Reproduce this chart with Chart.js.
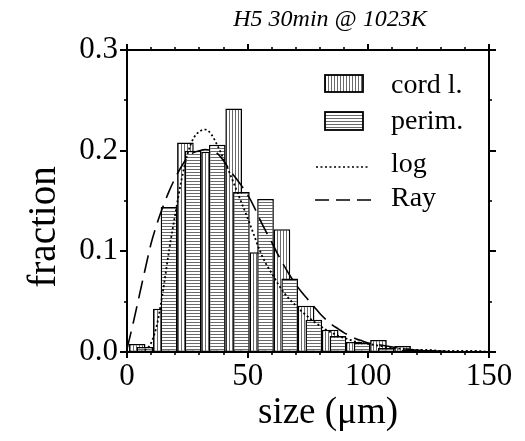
<!DOCTYPE html>
<html><head><meta charset="utf-8">
<script src="https://cdn.jsdelivr.net/npm/chart.js@4.4.1/dist/chart.umd.min.js"></script>
<style>html,body{margin:0;padding:0;background:#fff;}canvas{display:block;}</style>
</head><body>
<canvas id="c" width="525" height="441"></canvas>
<script>
// ---- data ----
const binStart = [0,10,20,30,40,50,60,70,80,90,100,110,120,130,140];
const cordL = [0.008,0.043,0.208,0.199,0.242,0.099,0.122,0.046,0.022,0.010,0.012,0.006,0.002,0.001,0.001];
const perim = [0.005,0.144,0.200,0.206,0.159,0.152,0.073,0.032,0.016,0.009,0.004,0.002,0.001,0.000,0.001];
const curveX = [0,2.5,5,7.5,10,12.5,15,17.5,20,22.5,25,27.5,30,32.5,35,37.5,40,42.5,45,47.5,50,52.5,55,57.5,60,62.5,65,67.5,70,72.5,75,77.5,80,82.5,85,87.5,90,92.5,95,97.5,100,105,110,115,120,125,130,135,140,145,150];
const logFit = [0,0,0,0.002,0.009,0.028,0.062,0.102,0.137,0.170,0.196,0.212,0.219,0.221,0.216,0.205,0.192,0.178,0.163,0.148,0.133,0.117,0.101,0.088,0.078,0.068,0.059,0.052,0.046,0.040,0.035,0.030,0.026,0.022,0.019,0.016,0.014,0.012,0.010,0.009,0.008,0.006,0.004,0.003,0.002,0.002,0.001,0.001,0.001,0.001,0.000];
const rayFit = [0.003,0.028,0.055,0.082,0.108,0.128,0.145,0.160,0.173,0.184,0.193,0.198,0.200,0.201,0.200,0.197,0.190,0.181,0.173,0.165,0.156,0.145,0.132,0.120,0.109,0.097,0.086,0.076,0.067,0.059,0.052,0.045,0.038,0.032,0.027,0.023,0.019,0.016,0.013,0.011,0.009,0.007,0.005,0.003,0.002,0.001,0.001,0,0,0,0];
const xTicks = [0,50,100,150];
const yTicks = [0.0,0.1,0.2,0.3];
const seriesNames = ['cord l.','perim.','log','Ray'];
const titleText = 'H5 30min @ 1023K';
const xTitle = 'size (\u03BCm)';
const yTitle = 'fraction';

// ---- styling ----
const SERIF = '"Liberation Serif","Times New Roman",serif';
const CORD_OFF = 4.2, PERIM_OFF = 7.4, BAR_W = 6.9;

const canvas = document.getElementById('c');
const ctx = canvas.getContext('2d');
function hatch(vertical){
  const t = document.createElement('canvas'); t.width = 3; t.height = 3;
  const g = t.getContext('2d');
  g.fillStyle = '#fff'; g.fillRect(0,0,3,3);
  g.fillStyle = '#6a6a6a';
  if (vertical) g.fillRect(1,0,1,3); else g.fillRect(0,1,3,1);
  return ctx.createPattern(t,'repeat');
}
const vHatch = hatch(true), hHatch = hatch(false);

const decor = {
  id: 'decor',
  afterDatasetsDraw(chart){
    const {ctx, chartArea: a, scales: {x, y}} = chart;
    ctx.save();
    ctx.strokeStyle = '#000';
    const seg = (x1,y1,x2,y2,w)=>{ctx.lineWidth=w;ctx.beginPath();ctx.moveTo(x1,y1);ctx.lineTo(x2,y2);ctx.stroke();};
    for (let v = 0; v <= 150; v += 10){
      const px = Math.round(x.getPixelForValue(v));
      const major = v % 50 === 0, L = major ? 6 : 3, w = major ? 2 : 1.6;
      seg(px, a.bottom, px, a.bottom + L, w);
      seg(px, a.top, px, a.top - L, w);
    }
    for (let i = 0; i <= 6; i++){
      const py = Math.round(y.getPixelForValue(i*0.05));
      const major = i % 2 === 0, L = major ? 7 : 3, w = major ? 2 : 1.6;
      seg(a.left - L, py, a.left, py, w);
      seg(a.right, py, a.right + L, py, w);
    }
    ctx.lineWidth = 2;
    ctx.strokeRect(a.left, a.top, a.right - a.left, a.bottom - a.top);
    ctx.restore();
  },
  afterDraw(chart){
    const c = chart.ctx;
    c.save();
    c.fillStyle = '#000';
    // title
    c.font = 'italic 24px ' + SERIF;
    c.textAlign = 'center'; c.textBaseline = 'alphabetic';
    c.fillText(titleText, 330, 26);
    // axis titles
    c.font = '37px ' + SERIF;
    c.fillText(xTitle, 328, 423);
    c.save();
    c.font = '39px ' + SERIF;
    c.translate(55, 227); c.rotate(-Math.PI/2);
    c.fillText(yTitle, 0, 0);
    c.restore();
    // legend
    c.textAlign = 'left';
    c.font = '28px ' + SERIF;
    c.lineWidth = 1.8; c.strokeStyle = '#000';
    c.fillStyle = vHatch; c.fillRect(325, 75, 38, 17); c.strokeRect(325, 75, 38, 17);
    c.fillStyle = hHatch; c.fillRect(325, 112, 38, 18); c.strokeRect(325, 112, 38, 18);
    c.lineWidth = 1.6;
    c.setLineDash([2,2.5]); c.beginPath(); c.moveTo(316,167); c.lineTo(370,167); c.stroke();
    c.setLineDash([14,7]); c.beginPath(); c.moveTo(315,200); c.lineTo(371,200); c.stroke();
    c.setLineDash([]);
    c.fillStyle = '#000';
    c.fillText(seriesNames[0], 391, 93);
    c.fillText(seriesNames[1], 391, 129);
    c.fillText(seriesNames[2], 391, 172);
    c.fillText(seriesNames[3], 391, 206);
    c.restore();
  }
};

new Chart(ctx, {
  type: 'bar',
  data: {
    datasets: [
      {type:'line', label: seriesNames[2], data: curveX.map((v,i)=>({x:v, y:logFit[i]})),
       borderColor:'#000', borderWidth:1.8, borderDash:[2,2.5], pointRadius:0, fill:false,
       cubicInterpolationMode:'monotone', order:0},
      {type:'line', label: seriesNames[3], data: curveX.map((v,i)=>({x:v, y:rayFit[i]})),
       borderColor:'#000', borderWidth:1.6, borderDash:[18,8], pointRadius:0, fill:false,
       cubicInterpolationMode:'monotone', order:0},
      {label: seriesNames[1], data: binStart.map((b,i)=>({x:b+PERIM_OFF, y:perim[i]})),
       backgroundColor:hHatch, borderColor:'#000', borderWidth:1.5, borderSkipped:false,
       grouped:false, categoryPercentage:1, barPercentage: BAR_W/(PERIM_OFF-CORD_OFF), order:1},
      {label: seriesNames[0], data: binStart.map((b,i)=>({x:b+CORD_OFF, y:cordL[i]})),
       backgroundColor:vHatch, borderColor:'#000', borderWidth:1.5, borderSkipped:false,
       grouped:false, categoryPercentage:1, barPercentage: BAR_W/(PERIM_OFF-CORD_OFF), order:2}
    ]
  },
  options: {
    responsive:false, animation:false, devicePixelRatio:1,
    layout:{padding:{top:50, right:36, left:0, bottom:0}},
    plugins:{legend:{display:false}, tooltip:{enabled:false}, title:{display:false}},
    scales:{
      x:{type:'linear', min:0, max:150, offset:false,
         grid:{display:false, drawTicks:false}, border:{display:false},
         afterBuildTicks(s){ s.ticks = xTicks.map(v=>({value:v})); },
         ticks:{padding:6, color:'#000', maxRotation:0, font:{family:SERIF, size:31}},
         afterFit(s){ s.height = 89; }},
      y:{type:'linear', min:0, max:0.3,
         grid:{display:false, drawTicks:false}, border:{display:false},
         afterBuildTicks(s){ s.ticks = yTicks.map(v=>({value:v})); },
         ticks:{padding:9, color:'#000', font:{family:SERIF, size:31}, callback:v=>Number(v).toFixed(1)},
         afterFit(s){ s.width = 127; }}
    }
  },
  plugins:[decor]
});
</script>
</body></html>
